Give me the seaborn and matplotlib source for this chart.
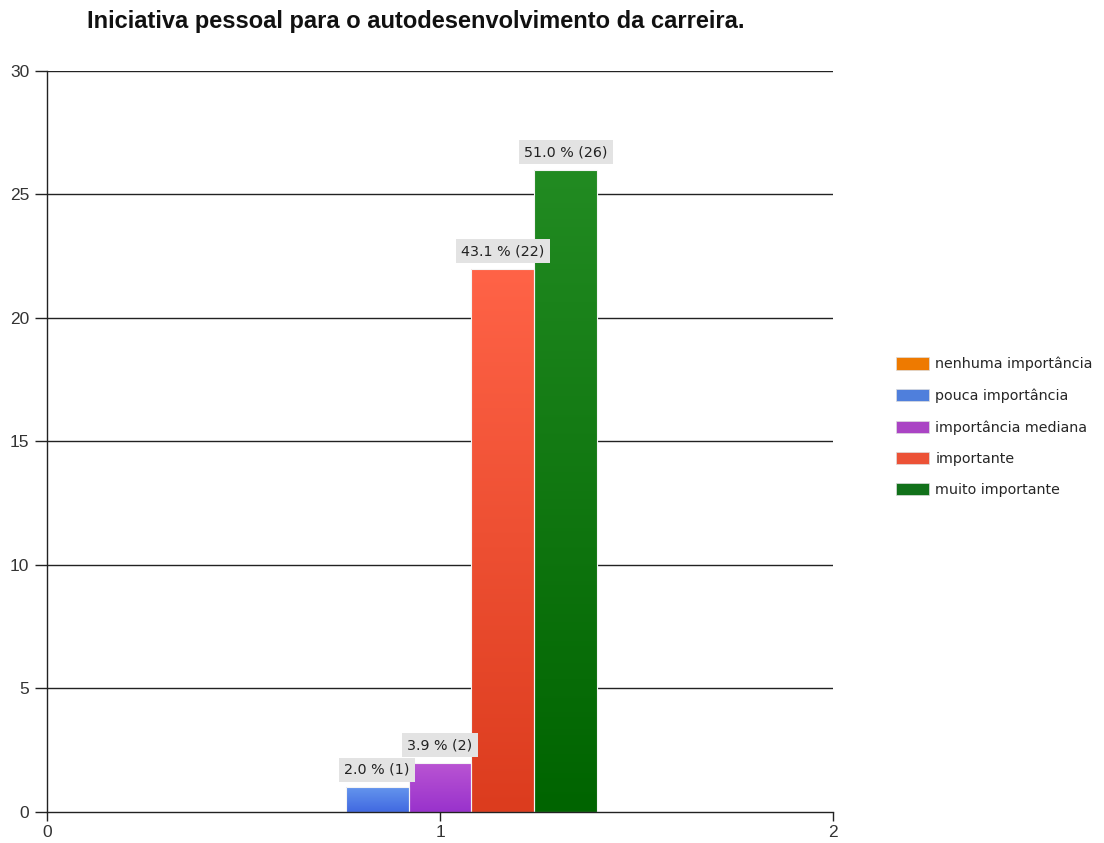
import numpy as np
import pandas as pd
import matplotlib
matplotlib.use("Agg")
import matplotlib.pyplot as plt
import seaborn as sns
from matplotlib.colors import LinearSegmentedColormap
from matplotlib.patches import Patch

categories = ["nenhuma importância", "pouca importância", "importância mediana",
              "importante", "muito importante"]
counts = [0, 1, 2, 22, 26]
group_x = [1, 1, 1, 1, 1]
title = "Iniciativa pessoal para o autodesenvolvimento da carreira."
top_colors = ["#FF8C00", "#6495ED", "#BA55D3", "#FF6347", "#228B22"]
bottom_colors = ["#E07000", "#4169E1", "#9932CC", "#DC3C1E", "#006400"]
legend_colors = ["#EE7A00", "#4F7FDC", "#AA44C4", "#EC5236", "#11711A"]

sns.set_theme(style="white")
plt.rcParams['font.family'] = ['Liberation Sans', 'DejaVu Sans']

df = pd.DataFrame({"x": group_x, "cat": categories, "n": counts})
total = sum(counts)

fig = plt.figure(figsize=(11.04, 8.43), dpi=100)
ax = fig.add_axes([0.0426, 0.0368, 0.712, 0.879])

sns.barplot(data=df, x="x", y="n", hue="cat", hue_order=categories,
            palette=legend_colors, native_scale=True, width=0.8,
            dodge=True, ax=ax, legend=False, edgecolor="#f4f4f4", linewidth=0.8)

ax.set_xlim(0, 2)
ax.set_ylim(0, 30)

# gradients and labels
bars = [p for p in ax.patches]
for i, p in enumerate(bars):
    h = p.get_height()
    if h <= 0:
        continue
    x0 = p.get_x(); w = p.get_width()
    cmap = LinearSegmentedColormap.from_list("g", [bottom_colors[i], top_colors[i]])
    grad = np.linspace(0, 1, 256).reshape(-1, 1)
    im = ax.imshow(grad, extent=[x0, x0 + w, 0, h], origin="lower", aspect="auto",
                   cmap=cmap, zorder=p.get_zorder() + 0.1)
    im.set_clip_path(p)
    p.set_facecolor("none")
    p.set_zorder(p.get_zorder() + 0.2)
    pct = counts[i] / total * 100
    ax.text(x0 + w / 2, h + 0.42, f"{pct:.1f} % ({counts[i]})", ha="center", va="bottom",
            fontsize=10.3, color="#222222", fontfamily="DejaVu Sans",
            bbox=dict(boxstyle="square,pad=0.35", fc="#e3e3e3", ec="none"), zorder=5)
ax.set_aspect("auto")
ax.set_xlim(0, 2)
ax.set_ylim(0, 30)

ax.set_xticks([0, 1, 2])
ax.set_xticklabels(["0", "1", "2"])
ax.set_yticks([0, 5, 10, 15, 20, 25, 30])
ax.set_xlabel("")
ax.set_ylabel("")
for y in [5, 10, 15, 20, 25, 30]:
    ax.axhline(y, color="#222222", linewidth=1.0, zorder=0.5)
for s in ["top", "right"]:
    ax.spines[s].set_visible(False)
for s in ["left", "bottom"]:
    ax.spines[s].set_color("#222222")
    ax.spines[s].set_linewidth(1.0)
ax.tick_params(axis="both", which="major", width=1, color="#222222",
               labelsize=12.5, labelcolor="#333333", direction="out",
               left=True, bottom=True)
ax.tick_params(axis="y", length=8.6, pad=4.3)
ax.tick_params(axis="x", length=6.5, pad=3)

fig.text(0.377, 0.975, title, ha="center", va="center", fontsize=17,
         fontweight="bold", color="#111111")

handles = [Patch(facecolor=c, edgecolor="#dddddd", linewidth=0.5) for c in legend_colors]
fig.legend(handles, categories, loc="upper left", bbox_to_anchor=(0.800, 0.592),
           frameon=False, handlelength=2.3, handleheight=0.95,
           labelspacing=1.2, handletextpad=0.45, prop={"family": "DejaVu Sans", "size": 10.3})

fig.savefig("out.png", dpi=100)
